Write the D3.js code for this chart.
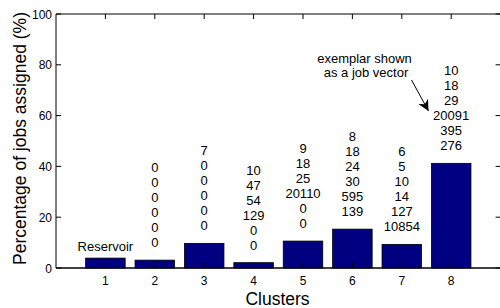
<!DOCTYPE html>
<html>
<head>
<meta charset="utf-8">
<script src="https://cdn.jsdelivr.net/npm/d3@7"></script>
<style>
  body { margin: 0; background: #fff; overflow: hidden; }
  text { font-family: "Liberation Sans", Arial, Helvetica, sans-serif; fill: #000; }
</style>
</head>
<body>
<div id="chart"></div>
<script>
// --- Data ---
const clusters = [1, 2, 3, 4, 5, 6, 7, 8];
const percentAssigned = [3.9, 3.1, 9.7, 2.1, 10.6, 15.3, 9.3, 41.2];
const barLabels = [
  ["Reservoir"],
  ["0", "0", "0", "0", "0", "0"],
  ["7", "0", "0", "0", "0", "0"],
  ["10", "47", "54", "129", "0", "0"],
  ["9", "18", "25", "20110", "0", "0"],
  ["8", "18", "24", "30", "595", "139"],
  ["6", "5", "10", "14", "127", "10854"],
  ["10", "18", "29", "20091", "395", "276"]
];
const yTicks = [0, 20, 40, 60, 80, 100];

const W = 500, H = 308;
const m = { top: 14, left: 56, bottom: 40 };
const plotW = 444.6, plotH = H - m.top - m.bottom;

const svg = d3.select("#chart").append("svg")
  .attr("width", W).attr("height", H);

const x = d3.scaleLinear().domain([0, 9]).range([m.left, m.left + plotW]);
const y = d3.scaleLinear().domain([0, 100]).range([m.top + plotH, m.top]);
const barW = (x(1) - x(0)) * 0.8;

// --- Bars ---
svg.selectAll("rect.bar").data(clusters).join("rect")
  .attr("class", "bar")
  .attr("x", (d) => x(d) - barW / 2)
  .attr("y", (d, i) => y(percentAssigned[i]))
  .attr("width", barW)
  .attr("height", (d, i) => y(0) - y(percentAssigned[i]))
  .attr("fill", "#000080")
  .attr("stroke", "#000")
  .attr("stroke-width", 0.8);

// --- Stacked labels above bars ---
const lineH = 15, labelGap = 13;
clusters.forEach((c, i) => {
  const lines = barLabels[i];
  const gap = lines.length === 1 ? 7 : labelGap;
  const baseY = y(percentAssigned[i]) - gap;
  lines.forEach((t, j) => {
    svg.append("text")
      .attr("x", x(c))
      .attr("y", baseY - (lines.length - 1 - j) * lineH)
      .attr("text-anchor", "middle")
      .attr("font-size", "13px")
      .text(t);
  });
});

// --- Box ---
const box = [
  [x(0), y(0), x(0), y(100), 1],
  [x(0), y(100), x(9), y(100), 1],
  [x(9), y(0), x(9), y(100), 1],
  [x(0), y(0), x(9), y(0), 1.5]
];
svg.selectAll("line.box").data(box).join("line")
  .attr("class", "box")
  .attr("x1", (d) => d[0]).attr("y1", (d) => d[1])
  .attr("x2", (d) => d[2]).attr("y2", (d) => d[3])
  .attr("stroke", "#000").attr("stroke-width", (d) => d[4]);

const tickLen = 5;
// y ticks left and right (inward)
yTicks.forEach((v) => {
  svg.append("line").attr("x1", x(0)).attr("x2", x(0) + tickLen)
    .attr("y1", y(v)).attr("y2", y(v)).attr("stroke", "#000");
  svg.append("line").attr("x1", x(9)).attr("x2", x(9) - tickLen)
    .attr("y1", y(v)).attr("y2", y(v)).attr("stroke", "#000");
  svg.append("text").attr("x", x(0) - 4).attr("y", y(v) + 4.5)
    .attr("text-anchor", "end").attr("font-size", "12px").text(v);
});
// x ticks top and bottom (inward)
clusters.forEach((c) => {
  svg.append("line").attr("x1", x(c)).attr("x2", x(c))
    .attr("y1", y(100)).attr("y2", y(100) + tickLen).attr("stroke", "#000");
  svg.append("line").attr("x1", x(c)).attr("x2", x(c))
    .attr("y1", y(0)).attr("y2", y(0) - tickLen).attr("stroke", "#000");
  svg.append("text").attr("x", x(c)).attr("y", y(0) + 17)
    .attr("text-anchor", "middle").attr("font-size", "12px").text(c);
});

// --- Axis titles ---
svg.append("text")
  .attr("x", 277.5).attr("y", 305)
  .attr("text-anchor", "middle").attr("font-size", "17.5px").text("Clusters");
svg.append("text")
  .attr("transform", `translate(25.5, 138.5) rotate(-90)`)
  .attr("text-anchor", "middle").attr("font-size", "17.5px")
  .text("Percentage of jobs assigned (%)");

// --- Annotation ---
svg.append("text").attr("x", 364.5).attr("y", 62.5)
  .attr("text-anchor", "middle").attr("font-size", "13px").text("exemplar shown");
svg.append("text").attr("x", 366).attr("y", 76.5)
  .attr("text-anchor", "middle").attr("font-size", "13px").text("as a job vector");

svg.append("defs").append("marker")
  .attr("id", "arrow").attr("viewBox", "0 0 10 10")
  .attr("refX", 10).attr("refY", 5)
  .attr("markerWidth", 11).attr("markerHeight", 11)
  .attr("markerUnits", "userSpaceOnUse")
  .attr("orient", "auto")
  .append("path").attr("d", "M0,0 L10,5 L0,10 L3,5 Z").attr("fill", "#000");
svg.append("line")
  .attr("x1", 411.5).attr("y1", 80).attr("x2", 428.5).attr("y2", 111)
  .attr("stroke", "#000").attr("stroke-width", 1)
  .attr("marker-end", "url(#arrow)");
</script>
</body>
</html>
